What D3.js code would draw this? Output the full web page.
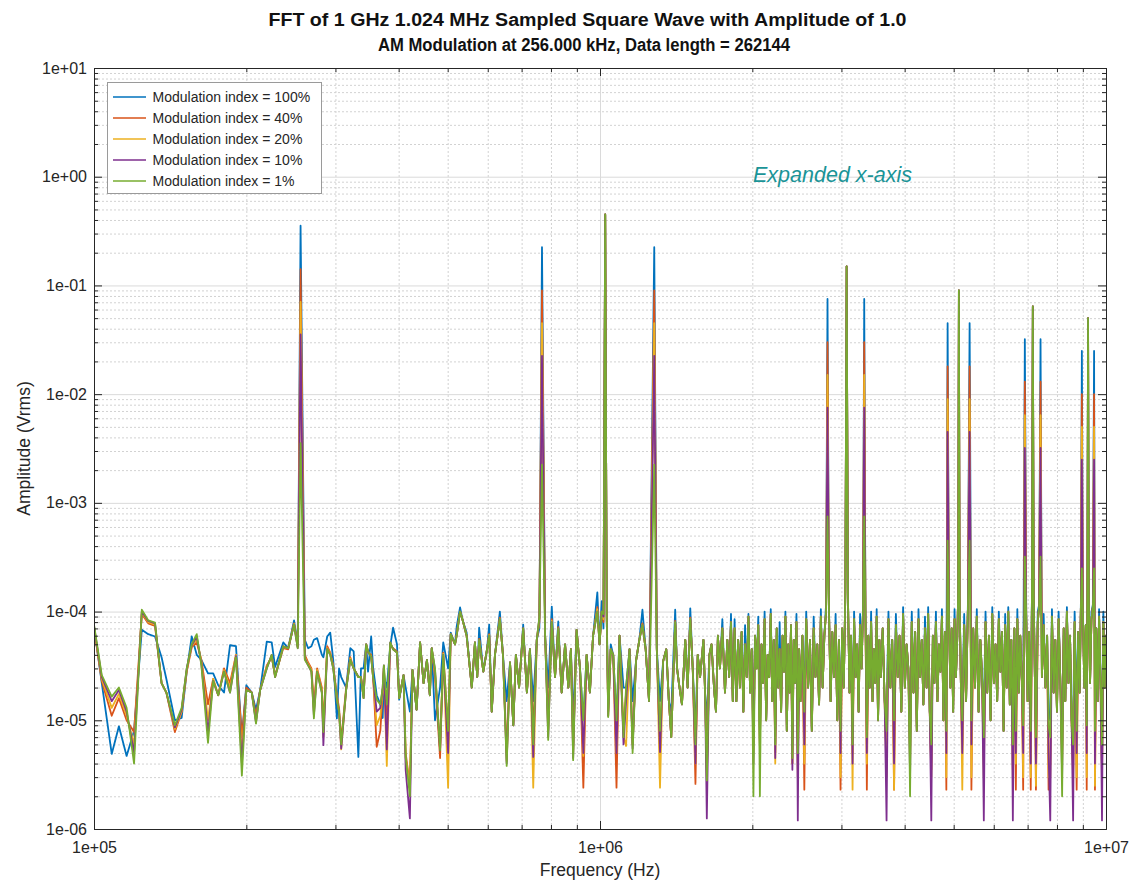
<!DOCTYPE html>
<html>
<head>
<meta charset="utf-8">
<script src="https://cdn.jsdelivr.net/npm/d3@7"></script>
<style>
  body { margin: 0; background: #fff; }
  text { font-family: "Liberation Sans", Arial, Helvetica, sans-serif; }
</style>
</head>
<body>
<div id="chart"></div>
<script>
// Frequency bins (kHz) and amplitudes (microvolts rms)
const freqKHz = [
  100, 103.6, 108.4, 112, 116, 120, 124.3, 128, 132, 136,
  139, 144.5, 149, 152.5, 156, 159.6, 163, 168, 172, 176,
  180.7, 185.7, 190.8, 196, 200, 205, 209, 213, 219.5, 224.5,
  228, 236.6, 242, 248.5, 252.7, 256, 261, 265, 269, 272,
  276, 282, 284, 289, 293, 297, 302, 305, 308, 315,
  321, 326, 333, 337, 341, 345, 348, 353, 356, 362,
  368, 372, 374, 379, 385, 390, 397, 401, 409, 413,
  421, 426, 434, 441, 448, 455, 461, 465, 472, 483,
  490, 501, 507, 517, 521, 529, 535, 545, 558, 566,
  572, 577, 588, 598, 604, 611, 620, 634, 643, 654,
  664, 674, 682, 692, 705, 717, 727, 738, 750, 759,
  768, 779, 790, 803, 815, 827, 840, 853, 866, 876,
  885, 899, 913, 927, 941, 955, 969, 988, 998, 1008,
  1016, 1024, 1031, 1038, 1050, 1062, 1078, 1093, 1113, 1126,
  1144, 1160, 1178, 1196, 1213, 1231, 1250, 1280, 1295, 1314,
  1333, 1352, 1368, 1383, 1408, 1420, 1432, 1452, 1474, 1490,
  1508, 1525, 1544, 1560, 1577, 1601, 1613, 1626, 1645, 1661,
  1680, 1695, 1710, 1726, 1745, 1766, 1785, 1800, 1815, 1830,
  1845, 1860, 1875, 1890, 1905, 1920, 1935, 1950, 1965, 1980,
  1995, 2010, 2025, 2040, 2055, 2070, 2085, 2100, 2115, 2130,
  2145, 2160, 2175, 2190, 2205, 2220, 2235, 2250, 2265, 2280,
  2295, 2310, 2325, 2340, 2355, 2370, 2385, 2400, 2415, 2430,
  2445, 2460, 2475, 2490, 2512, 2534, 2556, 2578, 2600, 2622,
  2644, 2666, 2688, 2710, 2732, 2754, 2776, 2798, 2816, 2834,
  2856, 2878, 2900, 2922, 2944, 2966, 2988, 3010, 3032, 3054,
  3072, 3090, 3112, 3134, 3156, 3178, 3200, 3222, 3244, 3266,
  3288, 3310, 3328, 3346, 3368, 3390, 3412, 3434, 3456, 3478,
  3500, 3522, 3544, 3566, 3588, 3620, 3652, 3684, 3716, 3748,
  3780, 3812, 3844, 3876, 3908, 3940, 3972, 4004, 4036, 4068,
  4100, 4132, 4164, 4196, 4228, 4260, 4292, 4324, 4356, 4388,
  4420, 4452, 4484, 4516, 4548, 4580, 4612, 4644, 4676, 4708,
  4740, 4772, 4804, 4836, 4864, 4892, 4924, 4956, 4988, 5020,
  5052, 5084, 5104, 5120, 5136, 5168, 5200, 5245, 5290, 5335,
  5376, 5420, 5465, 5510, 5555, 5600, 5645, 5690, 5735, 5780,
  5825, 5870, 5915, 5960, 6005, 6050, 6095, 6140, 6185, 6230,
  6275, 6320, 6365, 6410, 6455, 6500, 6545, 6590, 6635, 6680,
  6725, 6770, 6815, 6860, 6912, 6955, 7000, 7045, 7100, 7140,
  7168, 7196, 7240, 7270, 7330, 7375, 7424, 7470, 7530, 7590,
  7650, 7700, 7760, 7820, 7880, 7940, 8000, 8060, 8120, 8190,
  8250, 8310, 8370, 8430, 8490, 8550, 8610, 8670, 8750, 8810,
  8870, 8920, 8960, 9000, 9060, 9120, 9160, 9190, 9216, 9245,
  9300, 9360, 9420, 9472, 9510, 9570, 9630, 9690, 9750, 9820,
  9880, 9940, 10000, 10060
];

const mod100 = [
  73, 22, 4.9, 8.8, 4.7, 8, 68, 62, 59, 38,
  24, 10, 10.5, 28, 59, 40, 36, 27, 27, 21,
  18, 49, 48, 7, 21, 18, 12.5, 19, 53, 52,
  31, 52, 46, 83, 50, 354000, 55, 46, 48, 55,
  57, 40, 38, 59, 64, 36, 10.4, 30, 25, 20,
  46, 43, 4.6, 30, 30, 50, 28, 59, 31, 17,
  14, 10.5, 25, 20, 48, 71, 50, 15.5, 26, 20,
  12, 29, 12.5, 52, 22, 36, 17, 46, 10, 20,
  52, 30, 64, 50, 73, 109, 84, 64, 20, 52,
  25, 71, 28, 45, 76, 12, 40, 100, 40, 15,
  34, 9, 40, 20, 76, 18, 45, 15, 55, 70,
  225000, 60, 20, 111, 25, 81, 18, 50, 20, 45,
  10, 68, 30, 10, 40, 18, 60, 150, 50, 125,
  70, 450000, 95, 15, 50, 40, 10, 60, 20, 20,
  45, 15, 35, 55, 104, 45, 15, 225000, 45, 15,
  35, 45, 15, 12, 104, 30, 22, 14, 55, 20,
  107, 30, 8, 40, 25, 55, 18, 10, 40, 50,
  20, 12, 60, 30, 85, 18, 55, 25, 95, 15,
  85, 15, 55, 30, 65, 12, 75, 25, 95, 18,
  45, 12, 60, 30, 90, 8, 50, 22, 100, 10,
  40, 25, 105, 15, 55, 8, 70, 20, 80, 12,
  60, 28, 100, 8, 50, 18, 75, 6, 55, 30,
  95, 7, 45, 15, 60, 14, 100, 20, 55, 8,
  90, 25, 50, 14, 105, 20, 60, 120, 75000, 120,
  15, 65, 25, 95, 10, 55, 10, 70, 20, 150,
  150000, 140, 18, 60, 9, 100, 25, 50, 12, 95,
  30, 115, 75000, 110, 10, 60, 20, 100, 15, 45,
  22, 105, 10, 55, 25, 70, 15, 10, 100, 20,
  55, 12, 95, 25, 60, 12, 110, 20, 50, 30,
  8, 100, 18, 65, 8, 105, 25, 55, 14, 90,
  20, 110, 12, 8, 60, 22, 100, 15, 50, 28,
  105, 10, 65, 12, 45000, 110, 20, 70, 12, 105,
  25, 60, 150, 90000, 140, 20, 12, 95, 15, 120,
  45000, 12, 70, 20, 105, 12, 55, 25, 10, 100,
  18, 60, 10, 110, 22, 50, 15, 100, 28, 65,
  8, 95, 20, 110, 14, 55, 9, 70, 11, 105,
  18, 60, 25, 12, 32000, 105, 15, 65, 10, 150,
  64000, 140, 20, 10, 100, 115, 32000, 25, 95, 20,
  60, 12, 10, 105, 18, 55, 12, 100, 25, 8,
  70, 15, 110, 22, 60, 10, 9, 100, 11, 65,
  18, 120, 25000, 110, 20, 75, 12, 150, 50000, 140,
  22, 100, 115, 25000, 10, 70, 15, 105, 25, 9,
  100, 20, 60, 30
];

const mod40 = [
  70, 23, 11, 16, 10, 7.8, 95, 78, 74, 22,
  18, 7.8, 12, 28, 47, 52, 36, 14, 24, 17,
  30, 22, 40, 7, 20, 18, 11, 19, 32, 38,
  26, 46, 45, 78, 48, 141000, 40, 34, 30, 14,
  30, 20, 9, 48, 42, 32, 17, 13, 6.5, 20,
  38, 30, 25, 25, 17, 50, 42, 40, 26, 5.7,
  8, 18, 30, 9, 50, 46, 43, 16, 26, 5,
  2.5, 29, 12.5, 52, 22, 36, 17, 46, 25, 4.5,
  42, 8, 62, 50, 62, 100, 84, 60, 20, 52,
  25, 56, 28, 45, 62, 12, 40, 88, 40, 5,
  34, 9, 40, 20, 70, 18, 45, 8, 55, 80,
  90000, 60, 10, 85, 25, 72, 18, 50, 20, 45,
  6, 68, 30, 2.4, 40, 18, 60, 110, 50, 100,
  80, 450000, 90, 12, 45, 40, 2.4, 60, 8, 18,
  45, 6, 35, 55, 78, 45, 15, 90000, 45, 5,
  35, 45, 15, 7, 82, 30, 22, 14, 55, 20,
  88, 30, 2.6, 40, 25, 55, 18, 3.5, 40, 50,
  20, 12, 60, 30, 70, 18, 55, 25, 80, 15,
  70, 15, 55, 20, 65, 12, 50, 25, 90, 18,
  45, 6, 60, 30, 75, 6, 50, 22, 85, 10,
  40, 25, 95, 15, 55, 5, 70, 20, 45, 12,
  60, 28, 90, 8, 50, 18, 75, 4, 55, 22,
  80, 3, 45, 15, 60, 2.3, 85, 20, 55, 8,
  70, 25, 50, 14, 90, 20, 60, 100, 30000, 110,
  15, 65, 25, 75, 10, 55, 2.3, 70, 20, 150,
  150000, 140, 18, 60, 5, 85, 25, 50, 12, 75,
  30, 105, 30000, 100, 2.3, 60, 20, 80, 15, 45,
  22, 90, 10, 55, 25, 70, 15, 4, 85, 20,
  55, 2.3, 75, 25, 60, 12, 95, 20, 50, 30,
  5, 80, 18, 65, 8, 85, 25, 55, 14, 70,
  20, 95, 12, 3.5, 60, 22, 80, 15, 50, 28,
  90, 10, 65, 2.3, 18000, 100, 20, 70, 12, 85,
  25, 60, 150, 90000, 140, 20, 6, 75, 15, 110,
  18000, 2.3, 70, 20, 90, 12, 55, 25, 4, 80,
  18, 60, 10, 95, 22, 50, 15, 85, 28, 65,
  8, 75, 20, 100, 14, 55, 3.5, 70, 2.3, 85,
  18, 60, 25, 2.3, 13000, 90, 15, 65, 2.3, 150,
  64000, 140, 20, 2.3, 80, 110, 13000, 25, 75, 20,
  60, 2.3, 4, 90, 18, 55, 12, 85, 25, 5,
  70, 15, 100, 22, 60, 10, 3.5, 80, 2.3, 65,
  18, 110, 10000, 100, 20, 75, 2.3, 150, 50000, 140,
  22, 85, 110, 10000, 2.3, 70, 15, 90, 25, 3.5,
  80, 20, 60, 30
];

const mod20 = [
  72, 24, 13, 17.5, 11, 6, 98, 80, 76, 22,
  18, 8.3, 12, 29, 48, 56, 35, 10, 24, 17,
  29, 20, 40, 5, 19, 18, 10, 19, 31, 39,
  25, 47, 46, 77, 47, 70700, 38, 33, 29, 12,
  29, 19, 7, 46, 41, 31, 16, 12, 5.4, 19,
  37, 30, 25, 25, 16, 50, 43, 39, 25, 9,
  11, 19, 31, 3.8, 51, 45, 42, 16, 26, 4.5,
  2.5, 29, 12.5, 52, 22, 36, 17, 46, 27, 6,
  41, 2.4, 62, 50, 61, 100, 84, 60, 20, 52,
  25, 55, 28, 45, 61, 12, 40, 86, 40, 4.2,
  34, 9, 40, 20, 70, 18, 45, 2.4, 55, 85,
  45000, 60, 8, 82, 25, 70, 18, 50, 20, 45,
  5, 68, 30, 4.7, 40, 18, 60, 105, 50, 100,
  85, 450000, 90, 11, 45, 40, 5, 60, 7, 5.8,
  45, 6, 35, 55, 76, 45, 15, 45000, 45, 2.4,
  35, 45, 15, 7, 80, 30, 22, 14, 55, 20,
  86, 30, 4, 40, 25, 55, 18, 3, 40, 50,
  20, 12, 60, 30, 70, 18, 55, 25, 80, 15,
  70, 15, 55, 20, 65, 12, 50, 25, 90, 18,
  45, 5, 60, 30, 75, 6, 50, 22, 85, 10,
  40, 25, 95, 15, 55, 4, 70, 20, 45, 12,
  60, 28, 90, 8, 50, 18, 75, 4, 55, 22,
  80, 3.5, 45, 15, 60, 4, 85, 20, 55, 8,
  70, 25, 50, 14, 90, 20, 60, 100, 15000, 110,
  15, 65, 25, 75, 10, 55, 3, 70, 20, 150,
  150000, 140, 18, 60, 2.3, 85, 25, 50, 12, 75,
  30, 105, 15000, 100, 4, 60, 20, 80, 15, 45,
  22, 90, 10, 55, 25, 70, 15, 3, 85, 20,
  55, 2.3, 75, 25, 60, 12, 95, 20, 50, 30,
  4, 80, 18, 65, 8, 85, 25, 55, 14, 70,
  20, 95, 12, 3, 60, 22, 80, 15, 50, 28,
  90, 10, 65, 3, 9000, 100, 20, 70, 12, 85,
  25, 60, 150, 90000, 140, 20, 2.3, 75, 15, 110,
  9000, 3, 70, 20, 90, 12, 55, 25, 3, 80,
  18, 60, 10, 95, 22, 50, 15, 85, 28, 65,
  8, 75, 20, 100, 14, 55, 3, 70, 4, 85,
  18, 60, 25, 3, 6400, 90, 15, 65, 3, 150,
  64000, 140, 20, 2.5, 80, 110, 6400, 25, 75, 20,
  60, 3, 3, 90, 18, 55, 12, 85, 25, 4,
  70, 15, 100, 22, 60, 10, 3, 80, 3, 65,
  18, 110, 5000, 100, 20, 75, 3, 150, 50000, 140,
  22, 85, 110, 5000, 2.5, 70, 15, 90, 25, 3,
  80, 20, 60, 30
];

const mod10 = [
  74, 25, 15, 19, 12, 5, 100, 82, 78, 22,
  18, 8.6, 12.5, 30, 49, 59, 33, 7.7, 23, 17,
  28, 18, 39, 4, 19, 18, 9.5, 19, 30, 40,
  25, 48, 46, 76, 46, 35400, 37, 32, 28, 11,
  28, 18, 5.9, 45, 40, 30, 15.5, 12, 5.5, 19,
  36, 30, 25, 25, 16, 50, 43, 38, 25, 12,
  13, 20, 32, 5.4, 52, 45, 42, 16, 26, 3.5,
  1.25, 29, 12.5, 52, 22, 36, 17, 46, 29, 5.3,
  40, 5, 62, 50, 60, 100, 84, 60, 20, 52,
  25, 55, 28, 45, 60, 12, 40, 85, 40, 4,
  34, 9, 40, 20, 70, 18, 45, 4.6, 55, 88,
  22500, 60, 7, 80, 25, 70, 18, 50, 20, 45,
  4.5, 68, 30, 5, 40, 18, 60, 100, 50, 100,
  90, 450000, 90, 11, 45, 40, 5, 60, 6, 15,
  45, 5.5, 35, 55, 75, 45, 15, 22500, 45, 5.1,
  35, 45, 15, 7, 80, 30, 22, 14, 55, 20,
  85, 30, 4, 40, 25, 55, 18, 1.25, 40, 50,
  20, 12, 60, 30, 70, 18, 55, 25, 80, 15,
  70, 15, 55, 20, 65, 12, 50, 25, 90, 18,
  45, 4, 60, 30, 75, 6, 50, 22, 85, 10,
  40, 25, 95, 15, 55, 4.5, 70, 20, 45, 12,
  60, 28, 90, 8, 50, 18, 75, 3.5, 55, 22,
  80, 1.2, 45, 15, 60, 6, 85, 20, 55, 8,
  70, 25, 50, 14, 90, 20, 60, 100, 7500, 110,
  15, 65, 25, 75, 10, 55, 5, 70, 20, 150,
  150000, 140, 18, 60, 4, 85, 25, 50, 12, 75,
  30, 105, 7500, 100, 5, 60, 20, 80, 15, 45,
  22, 90, 10, 55, 25, 70, 15, 1.2, 85, 20,
  55, 4, 75, 25, 60, 12, 95, 20, 50, 30,
  3, 80, 18, 65, 8, 85, 25, 55, 14, 70,
  20, 95, 12, 1.2, 60, 22, 80, 15, 50, 28,
  90, 10, 65, 5, 4500, 100, 20, 70, 12, 85,
  25, 60, 150, 90000, 140, 20, 5, 75, 15, 110,
  4500, 6, 70, 20, 90, 12, 55, 25, 1.2, 80,
  18, 60, 10, 95, 22, 50, 15, 85, 28, 65,
  8, 75, 20, 100, 14, 55, 1.2, 70, 5, 85,
  18, 60, 25, 5, 3200, 90, 15, 65, 4, 150,
  64000, 140, 20, 4, 80, 110, 3200, 25, 75, 20,
  60, 5, 1.2, 90, 18, 55, 12, 85, 25, 3,
  70, 15, 100, 22, 60, 10, 1.2, 80, 5, 65,
  18, 110, 2500, 100, 20, 75, 5, 150, 50000, 140,
  22, 85, 110, 2500, 4, 70, 15, 90, 25, 1.2,
  80, 20, 60, 30
];

const mod1 = [
  76, 26, 16.5, 20, 13, 4, 104, 83, 79, 22,
  18, 9, 13, 30, 50, 62, 32, 6.2, 23, 17,
  28, 18, 38, 3.1, 19, 18, 9.3, 19, 30, 40,
  25, 48, 46, 76, 46, 3540, 36, 32, 28, 10.4,
  28, 18, 7.8, 45, 40, 30, 15.5, 12, 6, 19,
  36, 30, 25, 25, 16, 50, 43, 38, 25, 15.5,
  14, 20, 32, 14, 52, 45, 42, 16, 26, 4.6,
  2, 29, 12.5, 52, 22, 36, 17, 46, 30, 5.3,
  40, 8, 62, 50, 60, 100, 84, 60, 20, 52,
  25, 55, 28, 45, 60, 12, 40, 85, 40, 3.8,
  34, 9, 40, 20, 70, 18, 45, 6, 55, 90,
  2250, 60, 6.6, 80, 25, 70, 18, 50, 20, 45,
  4.3, 68, 30, 10, 40, 18, 60, 100, 50, 100,
  95, 450000, 90, 10.7, 45, 40, 10, 60, 7, 20,
  45, 5, 35, 55, 75, 45, 15, 2250, 45, 8,
  35, 45, 15, 7, 80, 30, 22, 14, 55, 20,
  85, 30, 6, 40, 25, 55, 18, 2.8, 40, 50,
  20, 12, 60, 30, 70, 18, 55, 25, 80, 15,
  70, 15, 55, 20, 65, 12, 50, 25, 90, 18,
  45, 2, 60, 30, 75, 2, 50, 22, 85, 10,
  40, 25, 95, 15, 55, 6, 70, 20, 45, 12,
  60, 28, 90, 8, 50, 18, 75, 4.5, 55, 22,
  80, 5, 45, 15, 60, 12, 85, 20, 55, 8,
  70, 25, 50, 14, 90, 20, 60, 100, 750, 110,
  15, 65, 25, 75, 10, 55, 8, 70, 20, 150,
  150000, 140, 18, 60, 6, 85, 25, 50, 12, 75,
  30, 105, 750, 100, 7, 60, 20, 80, 15, 45,
  22, 90, 10, 55, 25, 70, 15, 8, 85, 20,
  55, 10, 75, 25, 60, 12, 95, 20, 50, 30,
  2, 80, 18, 65, 8, 85, 25, 55, 14, 70,
  20, 95, 12, 6, 60, 22, 80, 15, 50, 28,
  90, 10, 65, 8, 450, 100, 20, 70, 12, 85,
  25, 60, 150, 90000, 140, 20, 10, 75, 15, 110,
  450, 10, 70, 20, 90, 12, 55, 25, 7, 80,
  18, 60, 10, 95, 22, 50, 15, 85, 28, 65,
  8, 75, 20, 100, 14, 55, 6, 70, 8, 85,
  18, 60, 25, 9, 320, 90, 15, 65, 8, 150,
  64000, 140, 20, 7, 80, 110, 320, 25, 75, 20,
  60, 9, 7, 90, 18, 55, 12, 85, 25, 2,
  70, 15, 100, 22, 60, 10, 6, 80, 8, 65,
  18, 110, 250, 100, 20, 75, 9, 150, 50000, 140,
  22, 85, 110, 250, 8, 70, 15, 90, 25, 6,
  80, 20, 60, 30
];

const seriesNames = ["Modulation index = 100%", "Modulation index = 40%", "Modulation index = 20%",
                     "Modulation index = 10%", "Modulation index = 1%"];
const seriesColors = ["#0072BD", "#D95319", "#EDB120", "#7E2F8E", "#77AC30"];
const seriesValues = [mod100, mod40, mod20, mod10, mod1];

const xMajor = [1e5, 1e6, 1e7];
const xTickLabels = ["1e+05", "1e+06", "1e+07"];
const yMajor = [1e-6, 1e-5, 1e-4, 1e-3, 1e-2, 1e-1, 1e0, 1e1];
const yTickLabels = ["1e-06", "1e-05", "1e-04", "1e-03", "1e-02", "1e-01", "1e+00", "1e+01"];

seriesValues.forEach((v, i) => {
    if (v.length !== freqKHz.length) console.warn("length mismatch", seriesNames[i], v.length, freqKHz.length);
});

// Layout
const width = 1130;
const height = 882;
const plot = { left: 94, top: 68, right: 1106, bottom: 829 };
const plotW = plot.right - plot.left;
const plotH = plot.bottom - plot.top;
const axisColor = "#262626";

const svg = d3.select("#chart")
    .append("svg")
    .attr("width", width)
    .attr("height", height);

const xScale = d3.scaleLog()
    .domain([1e5, 1e7])
    .range([plot.left, plot.right]);

const yScale = d3.scaleLog()
    .domain([1e-6, 1e1])
    .range([plot.bottom, plot.top]);

const isDecade = v => Math.abs(Math.log10(v) - Math.round(Math.log10(v))) < 1e-9;
const xMinor = xScale.ticks().filter(v => !isDecade(v));
const yMinor = yScale.ticks().filter(v => !isDecade(v));

// Grid lines (minor dotted, major solid)
function styleGrid(g, color, dash) {
    g.select(".domain").remove();
    g.selectAll("line").attr("stroke", color).attr("stroke-dasharray", dash);
}

svg.append("g")
    .attr("transform", `translate(0,${plot.bottom})`)
    .call(d3.axisBottom(xScale).tickValues(xMinor).tickSize(-plotH).tickFormat(""))
    .call(g => styleGrid(g, "#d2d2d2", "2,2"));

svg.append("g")
    .attr("transform", `translate(${plot.left},0)`)
    .call(d3.axisLeft(yScale).tickValues(yMinor).tickSize(-plotW).tickFormat(""))
    .call(g => styleGrid(g, "#d2d2d2", "2,2"));

svg.append("g")
    .attr("transform", `translate(0,${plot.bottom})`)
    .call(d3.axisBottom(xScale).tickValues(xMajor).tickSize(-plotH).tickFormat(""))
    .call(g => styleGrid(g, "#dadada", null));

svg.append("g")
    .attr("transform", `translate(${plot.left},0)`)
    .call(d3.axisLeft(yScale).tickValues(yMajor).tickSize(-plotW).tickFormat(""))
    .call(g => styleGrid(g, "#dadada", null));

// Spectrum lines
svg.append("clipPath")
    .attr("id", "plot-clip")
    .append("rect")
    .attr("x", plot.left)
    .attr("y", plot.top)
    .attr("width", plotW)
    .attr("height", plotH);

const line = d3.line()
    .x(d => xScale(d.f))
    .y(d => yScale(d.v));

const lines = svg.append("g").attr("clip-path", "url(#plot-clip)");

seriesValues.forEach((vals, i) => {
    const data = freqKHz.map((f, k) => ({ f: f * 1e3, v: vals[k] * 1e-6 }));
    lines.append("path")
        .datum(data)
        .attr("fill", "none")
        .attr("stroke", seriesColors[i])
        .attr("stroke-width", 1.8)
        .attr("stroke-linejoin", "round")
        .attr("d", line);
});

// Axes box with inward ticks on all four sides
function styleAxis(g) {
    g.select(".domain").attr("stroke", axisColor);
    g.selectAll("line").attr("stroke", axisColor);
    g.selectAll("text")
        .attr("fill", axisColor)
        .style("font-size", "16px")
        .style("font-family", '"Liberation Sans", Arial, sans-serif');
}

svg.append("g")
    .attr("transform", `translate(0,${plot.bottom})`)
    .call(d3.axisBottom(xScale).tickValues(xMajor).tickFormat((d, i) => xTickLabels[i])
        .tickSize(-8).tickSizeOuter(0).tickPadding(13))
    .call(styleAxis);

svg.append("g")
    .attr("transform", `translate(0,${plot.bottom})`)
    .call(d3.axisBottom(xScale).tickValues(xMinor).tickFormat("").tickSize(-4).tickSizeOuter(0))
    .call(styleAxis);

svg.append("g")
    .attr("transform", `translate(0,${plot.top})`)
    .call(d3.axisTop(xScale).tickValues(xMajor).tickFormat("").tickSize(-8).tickSizeOuter(0))
    .call(styleAxis);

svg.append("g")
    .attr("transform", `translate(0,${plot.top})`)
    .call(d3.axisTop(xScale).tickValues(xMinor).tickFormat("").tickSize(-4).tickSizeOuter(0))
    .call(styleAxis);

svg.append("g")
    .attr("transform", `translate(${plot.left},0)`)
    .call(d3.axisLeft(yScale).tickValues(yMajor).tickFormat((d, i) => yTickLabels[i])
        .tickSize(-8).tickSizeOuter(0).tickPadding(7))
    .call(styleAxis);

svg.append("g")
    .attr("transform", `translate(${plot.left},0)`)
    .call(d3.axisLeft(yScale).tickValues(yMinor).tickFormat("").tickSize(-4).tickSizeOuter(0))
    .call(styleAxis);

svg.append("g")
    .attr("transform", `translate(${plot.right},0)`)
    .call(d3.axisRight(yScale).tickValues(yMajor).tickFormat("").tickSize(-8).tickSizeOuter(0))
    .call(styleAxis);

svg.append("g")
    .attr("transform", `translate(${plot.right},0)`)
    .call(d3.axisRight(yScale).tickValues(yMinor).tickFormat("").tickSize(-4).tickSizeOuter(0))
    .call(styleAxis);

// Titles and axis labels
svg.append("text")
    .attr("x", 587.5).attr("y", 26)
    .attr("text-anchor", "middle")
    .attr("textLength", 638).attr("lengthAdjust", "spacingAndGlyphs")
    .style("font-size", "17.5px").style("font-weight", "bold")
    .attr("fill", "#111")
    .text("FFT of 1 GHz 1.024 MHz Sampled Square Wave with Amplitude of 1.0");

svg.append("text")
    .attr("x", 584).attr("y", 51)
    .attr("text-anchor", "middle")
    .attr("textLength", 412).attr("lengthAdjust", "spacingAndGlyphs")
    .style("font-size", "17.5px").style("font-weight", "bold")
    .attr("fill", "#111")
    .text("AM Modulation at 256.000 kHz, Data length = 262144");

svg.append("text")
    .attr("x", (plot.left + plot.right) / 2).attr("y", 876)
    .attr("text-anchor", "middle")
    .style("font-size", "17.5px")
    .attr("fill", axisColor)
    .text("Frequency (Hz)");

svg.append("text")
    .attr("transform", `translate(30,${(plot.top + plot.bottom) / 2}) rotate(-90)`)
    .attr("text-anchor", "middle")
    .style("font-size", "17.5px")
    .attr("fill", axisColor)
    .text("Amplitude (Vrms)");

// Annotation
svg.append("text")
    .attr("x", 753).attr("y", 182)
    .style("font-size", "21.5px").style("font-style", "italic")
    .attr("fill", "#1a9497")
    .text("Expanded x-axis");

// Legend
const legend = svg.append("g");
legend.append("rect")
    .attr("x", 107.5).attr("y", 82.5)
    .attr("width", 214).attr("height", 111)
    .attr("fill", "#fff")
    .attr("stroke", "#9a9a9a");

seriesNames.forEach((name, i) => {
    const y = 97 + i * 21;
    legend.append("line")
        .attr("x1", 113).attr("x2", 146)
        .attr("y1", y).attr("y2", y)
        .attr("stroke", seriesColors[i])
        .attr("stroke-width", 1.5);
    legend.append("text")
        .attr("x", 152.5).attr("y", y)
        .attr("dy", "0.35em")
        .style("font-size", "14px")
        .attr("fill", axisColor)
        .text(name);
});
</script>
</body>
</html>
